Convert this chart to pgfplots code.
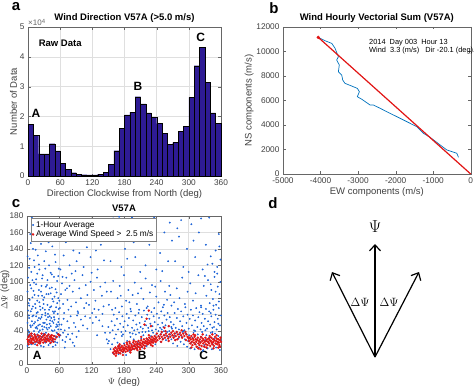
\documentclass[border=0pt]{standalone}
\usepackage{fontspec}
\setmainfont{Liberation Sans}
\usepackage{pgfplots}
\pgfplotsset{compat=1.18}
\usetikzlibrary{arrows.meta}
\definecolor{barcol}{RGB}{46,27,148}
\definecolor{mblue}{RGB}{0,114,189}
\definecolor{sblue}{RGB}{30,100,215}
\definecolor{mred}{RGB}{225,20,20}
\pgfplotsset{mystyle/.style={scale only axis, scaled ticks=false,
  tick label style={font=\fontsize{8.3}{9}\selectfont, color=black!75},
  label style={font=\fontsize{9.5}{10}\selectfont, color=black!75},
  title style={font=\bfseries\fontsize{9.5}{10}\selectfont, yshift=-5pt},
  axis line style={black!60}, tick style={black!60}, major tick length=2.5pt,
  /pgf/number format/assume math mode=true, /pgf/number format/1000 sep={},
  grid style={gray!25}}}
\begin{document}
\begin{tikzpicture}
\path[use as bounding box] (0,0) rectangle (474pt,389pt);
% panel letters
\node[font=\bfseries\fontsize{15}{15}\selectfont] at (16pt,382pt) {a};
\node[font=\bfseries\fontsize{15}{15}\selectfont] at (274pt,381pt) {b};
\node[font=\bfseries\fontsize{15}{15}\selectfont] at (16pt,185pt) {c};
\node[font=\bfseries\fontsize{15}{15}\selectfont] at (273pt,186pt) {d};
% ---------------- panel a
\begin{axis}[mystyle, at={(28pt,213pt)}, anchor=south west, width=193pt, height=149pt,
  xmin=0, xmax=360, ymin=0, ymax=5, xtick={0,60,...,360}, ytick={0,1,...,5},
  grid=major, title={Wind Direction V57A (>5.0 m/s)},
  xlabel={Direction Clockwise from North (deg)}, ylabel={Number of Data},
  xlabel style={yshift=3pt}, ylabel style={yshift=-4pt}, clip=false]
\addplot[ybar interval, fill=barcol, draw=black, line width=0.3pt] coordinates {
(0,1.745)(10,1.36)(20,0.74)(30,0.74)(40,1.085)(50,0.84)(60,0.43)(70,0.22)(80,0.11)(90,0.06)
(100,0.045)(110,0.04)(120,0.04)(130,0.065)(140,0.13)(150,0.40)(160,0.85)(170,1.6)(180,2.05)(190,2.14)
(200,2.66)(210,2.42)(220,2.12)(230,1.97)(240,1.76)(250,1.43)(260,1.07)(270,1.12)(280,1.51)(290,1.66)
(300,2.64)(310,3.70)(320,4.31)(330,3.14)(340,2.12)(350,1.77)(360,1.77)};
\node[anchor=south west, font=\fontsize{8}{8}\selectfont, color=black!60, inner sep=0pt] at (rel axis cs:0,1.005) {×10\textsuperscript{4}};
\node[font=\bfseries\fontsize{9.5}{10}\selectfont] at (axis cs:60,4.45) {Raw Data};
\node[font=\bfseries\fontsize{12}{12}\selectfont] at (axis cs:15,2.1) {A};
\node[font=\bfseries\fontsize{12}{12}\selectfont] at (axis cs:205,3.0) {B};
\node[font=\bfseries\fontsize{12}{12}\selectfont] at (axis cs:322,4.66) {C};
\end{axis}
% ---------------- panel b
\begin{axis}[mystyle, at={(283pt,215pt)}, anchor=south west, width=187.7pt, height=147pt,
  xmin=-5000, xmax=0, ymin=0, ymax=12000, xtick={-5000,-4000,...,0}, ytick={0,2000,...,12000},
  title={Wind Hourly Vectorial Sum (V57A)},
  xlabel={EW components (m/s)}, ylabel={NS components (m/s)},
  xlabel style={yshift=3pt}, ylabel style={yshift=-4pt}, clip=false]
\addplot[mblue, line width=0.7pt] coordinates {
(-4060,11150)(-3880,10880)(-3700,10660)(-3613,10260)(-3525,9570)(-3570,9300)(-3500,8900)
(-3525,8350)(-3435,8080)(-3410,7670)(-3350,7400)(-3170,7180)(-3020,6990)(-2965,6720)
(-3020,6310)(-2947,6180)(-2900,6100)(-2680,5630)(-2592,5630)(-2410,5360)(-2235,5085)
(-1968,4680)(-1700,4270)(-1435,3860)(-1258,3320)(-1080,2990)(-813,2370)(-635,1960)
(-370,1690)(-325,1360)};
\addplot[mred, line width=1.2pt] coordinates {(-4060,11150)(0,0)};
\addplot[mred, only marks, mark=*, mark size=1.5pt] coordinates {(-4060,11150)};
\node[anchor=north west, align=left, font=\fontsize{7.4}{8}\selectfont, inner sep=0pt] at (axis cs:-2710,11050)
  {2014\ \ Day 003\ \ Hour 13\\Wind\ \ 3.3 (m/s)\ \ \ Dir -20.1 (deg).};
\end{axis}
% ---------------- panel c
\begin{axis}[mystyle, at={(27pt,25pt)}, anchor=south west, width=194pt, height=148pt,
  xmin=0, xmax=360, ymin=0, ymax=180, xtick={0,60,...,360}, ytick={0,20,...,180},
  grid=major, title={V57A},
  xlabel={$\Psi$ (deg)}, ylabel={$\Delta\Psi$ (deg)},
  xlabel style={yshift=3pt}, ylabel style={yshift=-6.5pt},
  legend style={at={(0.02,0.985)}, anchor=north west, font=\fontsize{8.3}{8.3}\selectfont, draw=black!50, inner sep=1pt, row sep=-2pt},
  legend cell align=left]
\addplot[only marks, mark=*, mark size=0.7pt, sblue] coordinates {
(1,22)(3,35)(5,28)(7,45)(9,52)(11,31)(13,40)(15,24)(17,58)(19,36)(21,47)(23,27)(25,55)(27,33)(29,42)(31,21)(33,50)(35,38)(37,29)(39,57)(41,44)(43,25)(45,35)(47,52)(49,30)(51,41)(53,23)(55,48)(57,37)(59,55)
(2,41)(4,56)(6,33)(8,24)(10,47)(12,59)(14,36)(16,44)(18,27)(20,53)(22,39)(24,48)(26,22)(28,60)(30,35)(32,45)(34,26)(36,54)(38,42)(40,31)(42,58)(44,46)(46,28)(48,40)(50,57)(52,34)(54,45)(56,26)(58,42)(60,33)
(1,50)(4,38)(7,26)(10,58)(13,49)(16,32)(19,43)(22,56)(25,30)(28,46)(31,37)(34,59)(37,48)(40,23)(43,53)(46,41)(49,50)(52,27)(55,38)(58,51)
(3,59)(6,47)(9,37)(12,26)(15,51)(18,45)(21,33)(24,41)(27,57)(30,50)(33,32)(36,44)(39,35)(42,49)(45,56)(48,21)(51,54)(54,32)(57,46)(60,48)
(2,65)(5,78)(8,92)(11,70)(14,84)(17,97)(20,63)(23,75)(26,88)(29,68)(32,81)(35,94)(38,72)(41,66)(44,86)(47,79)(50,62)(53,91)(56,74)(59,67)
(1,88)(4,71)(7,64)(10,81)(13,99)(16,68)(19,77)(22,90)(25,66)(28,83)(31,73)(34,62)(37,96)(40,85)(43,69)(46,93)(49,76)(52,64)(55,87)(58,80)
(3,74)(6,96)(9,67)(12,89)(15,73)(18,62)(21,83)(24,70)(27,95)(30,78)(33,66)(36,85)(39,61)(42,92)(45,70)(48,64)(51,82)(54,69)(57,61)(60,77)
(2,105)(5,128)(8,112)(11,140)(14,118)(17,103)(20,132)(23,115)(26,146)(29,108)(32,125)(35,137)(38,102)(41,120)(44,111)(47,143)(50,106)(53,124)(56,101)(59,116)
(1,131)(4,117)(7,147)(10,102)(13,126)(16,139)(19,110)(22,121)(28,104)(34,116)(40,148)(46,109)(52,133)(58,107)
(6,158)(14,171)(25,162)(33,176)(44,155)(52,168)(9,178)(38,164)
(62,35)(64,48)(66,29)(68,55)(70,41)(73,33)(75,52)(78,44)(81,58)(84,37)(87,50)(90,45)(93,59)(96,40)(100,54)(104,47)(108,58)(112,43)(117,56)(122,50)(128,57)(134,53)(140,46)(145,38)(148,30)(63,42)(67,38)(71,27)(76,36)(80,30)(85,26)(92,33)
(61,68)(63,85)(65,98)(67,73)(69,62)(71,90)(73,105)(75,78)(77,66)(79,95)(82,70)(85,88)(88,102)(91,75)(94,64)(97,92)(100,80)(103,108)(106,68)(109,96)(112,84)(115,72)(118,100)(121,62)(124,90)(127,77)(130,105)(133,66)(136,94)(139,83)(142,70)(145,99)(148,88)(66,106)(74,92)(83,110)(95,62)(110,74)(125,67)(140,61)
(62,115)(68,132)(72,148)(79,120)(86,138)(92,125)(99,155)(105,118)(111,142)(118,130)(124,160)(131,115)(137,145)(143,126)(149,170)(65,162)(82,175)(97,135)(114,168)(128,138)(146,152)(90,113)(102,172)(120,111)
(70,20)(88,22)(130,35)(150,25)
(152,28)(155,18)(158,24)(160,13)(162,31)(164,20)(166,15)(168,26)(170,12)(172,22)(174,17)(176,34)(178,14)(180,25)(182,19)(184,11)(186,28)(188,21)(190,16)(192,33)(194,24)(196,18)(198,30)(200,22)(202,36)(204,19)(206,27)(208,38)(210,23)(212,31)(214,20)(216,35)(218,26)(220,39)(222,22)(224,30)(226,40)(228,25)(230,34)(232,28)(234,38)(236,31)(238,24)(240,36)(242,29)(244,40)(246,33)(248,27)(250,38)(252,31)(254,40)(256,35)(258,29)(260,39)(262,33)(264,40)(266,36)(268,30)
(151,45)(154,38)(157,52)(159,41)(161,60)(163,47)(165,36)(167,55)(169,42)(171,63)(173,49)(175,39)(177,58)(179,45)(181,52)(183,40)(185,61)(187,47)(189,56)(191,38)(193,64)(195,44)(197,53)(199,41)(201,59)(203,48)(205,42)(207,62)(209,50)(211,45)(213,57)(215,43)(217,65)(219,52)(221,47)(223,60)(225,44)(227,55)(229,49)(231,63)(233,46)(235,58)(237,51)(239,42)(241,61)(243,48)(245,56)(247,44)(249,64)(251,50)(253,45)(255,59)(257,47)(259,54)(261,62)(263,46)(265,57)(267,51)(269,43)(178,36)(196,37)(214,39)(232,41)(250,42)(268,45)
(152,72)(156,88)(160,101)(164,68)(168,80)(172,95)(176,70)(180,108)(184,77)(188,90)(192,67)(196,84)(200,99)(204,73)(208,66)(212,92)(216,79)(220,104)(224,70)(228,87)(232,96)(236,68)(240,82)(244,75)(248,101)(252,69)(256,88)(260,78)(264,95)(268,71)(158,66)(174,83)(190,75)(206,86)(222,68)(238,94)(254,72)(266,84)
(155,125)(162,150)(168,172)(175,118)(182,140)(188,165)(195,178)(201,130)(207,155)(214,175)(220,120)(227,145)(233,170)(240,115)(247,135)(255,160)(262,125)(269,150)(171,179)(186,128)(210,112)(236,178)(251,113)(265,172)(198,148)(160,177)(224,162)
(271,25)(273,34)(275,29)(277,38)(279,22)(281,31)(283,36)(285,27)(287,33)(289,39)(291,24)(293,30)(295,37)(297,21)(299,28)(301,35)(303,19)(305,26)(307,32)(309,38)(311,18)(313,24)(315,30)(317,36)(319,20)(321,27)(323,33)(325,39)(327,17)(329,23)(331,29)(333,35)(335,19)(337,26)(339,32)(341,38)(343,18)(345,24)(347,31)(349,37)(351,20)(353,27)(355,34)(357,22)(359,29)(312,40)(326,16)(344,39)(358,17)(290,40)
(272,48)(274,62)(276,44)(278,56)(280,67)(282,42)(284,52)(286,64)(288,46)(290,58)(292,41)(294,69)(296,50)(298,60)(300,43)(302,55)(304,66)(306,47)(308,59)(310,41)(312,53)(314,68)(316,45)(318,57)(320,63)(322,42)(324,50)(326,61)(328,46)(330,55)(332,67)(334,43)(336,52)(338,64)(340,48)(342,58)(344,44)(346,66)(348,51)(350,60)(352,42)(354,55)(356,68)(358,47)(360,59)(331,41)(347,45)(355,49)(341,62)(323,69)
(273,75)(278,92)(283,80)(288,105)(293,73)(298,88)(303,98)(308,77)(313,86)(318,108)(323,71)(328,95)(333,83)(336,102)(339,74)(342,90)(345,79)(348,106)(351,72)(354,94)(357,85)(359,100)(341,97)(350,88)(356,76)(330,107)(346,71)(353,110)
(275,125)(282,155)(290,118)(297,140)(305,170)(312,130)(319,160)(326,115)(332,145)(338,178)(344,122)(350,138)(356,158)(359,127)(348,112)(353,118)(341,131)(286,175)(309,150)(323,177)(335,121)(357,143)(300,112)(279,165)
};
\addlegendentry{1-Hour Average}
\addplot[only marks, mark=*, mark size=1.0pt, mred] coordinates {
(1,30)(2,27)(3,33)(4,29)(5,35)(6,26)(7,31)(8,28)(9,34)(10,30)(11,25)(12,32)(13,29)(14,36)(15,27)(16,31)(17,33)(18,28)(19,30)(20,35)(21,26)(22,32)(23,29)(24,34)(25,27)(26,31)(27,37)(28,29)(29,33)(30,26)(31,30)(32,35)(33,28)(34,32)(35,30)(36,27)(37,34)(38,31)(39,29)(40,36)(41,28)(42,33)(43,30)(44,26)(45,32)(46,35)(47,29)(48,31)(49,27)(50,34)(52,30)(55,33)(58,36)(60,35)(3,24)(9,26)(15,34)(24,25)(33,36)(44,34)(8,37)(19,23)
(160,14)(161,18)(162,12)(163,16)(164,20)(165,15)(166,13)(167,18)(168,16)(169,21)(170,14)(171,19)(172,17)(173,13)(174,20)(175,16)(176,22)(177,18)(178,15)(179,20)(180,17)(181,23)(182,19)(183,15)(184,21)(185,18)(186,24)(187,16)(188,20)(189,22)(190,18)(191,25)(192,20)(193,17)(194,23)(195,21)(196,19)(197,26)(198,22)(199,18)(200,24)(201,21)(202,27)(203,19)(204,23)(205,25)(206,21)(207,28)(208,24)(209,20)(210,26)(211,23)(212,29)(213,21)(214,25)(215,27)(216,23)(217,30)(218,26)(219,22)(220,28)(221,25)(222,31)(223,27)(224,24)(225,29)(226,26)(227,32)(228,28)(229,25)(230,30)(231,27)(232,33)(233,29)(234,26)(235,31)(236,28)(237,34)(238,30)(239,27)(240,32)(242,29)(244,34)(246,31)(248,36)(250,33)(252,30)(254,35)(256,32)(258,37)(260,34)(262,31)(264,36)(266,33)(268,38)(270,35)(272,32)(274,37)(276,34)(278,39)(280,36)(282,33)(284,38)(286,35)(288,32)(290,37)(292,34)(294,39)(296,36)(298,33)(300,31)
(165,10)(172,24)(178,11)(185,26)(192,14)(198,28)(205,17)(212,33)(218,19)(226,35)(233,22)(241,37)(249,27)(257,40)(263,28)(271,40)(279,30)(287,41)(295,29)(170,22)(190,27)(210,18)(230,23)(250,39)(275,29)
(222,55)(226,65)(218,48)(230,46)(255,44)(263,46)
(301,28)(302,32)(303,25)(304,30)(305,34)(306,27)(307,23)(308,31)(309,29)(310,26)(311,33)(312,24)(313,30)(314,27)(315,21)(316,29)(317,32)(318,25)(319,28)(320,23)(321,30)(322,26)(323,33)(324,22)(325,28)(326,31)(327,25)(328,29)(329,21)(330,27)(331,32)(332,24)(333,28)(334,30)(335,23)(336,27)(337,31)(338,25)(339,29)(340,22)(341,28)(342,32)(343,26)(344,24)(345,30)(346,27)(347,22)(348,29)(349,33)(350,25)(351,28)(352,31)(353,24)(354,27)(355,30)(356,26)(357,23)(358,29)(359,32)(360,27)
(305,20)(312,35)(318,19)(326,36)(333,20)(339,34)(346,19)(352,35)(358,21)(309,36)(322,18)(344,36)(355,20)
};
\addlegendentry{Average Wind Speed >\ \ 2.5 m/s}
\node[font=\bfseries\fontsize{12}{12}\selectfont] at (axis cs:19,11) {A};
\node[font=\bfseries\fontsize{12}{12}\selectfont] at (axis cs:214,10) {B};
\node[font=\bfseries\fontsize{12}{12}\selectfont] at (axis cs:328,10) {C};
\end{axis}
% ---------------- panel d
\begin{axis}[at={(240pt,0pt)}, anchor=south west, scale only axis, width=234pt, height=195pt,
  xmin=240, xmax=474, ymin=0, ymax=195, hide axis, clip=false]
\addplot[black, line width=1.2pt, -{Straight Barb[length=6pt,width=11pt,line width=1.2pt]}] coordinates {(375,32)(375,145)};
\addplot[black, line width=1.2pt, -{Straight Barb[length=6pt,width=11pt,line width=1.2pt]}] coordinates {(375,32)(332,117)};
\addplot[black, line width=1.2pt, -{Straight Barb[length=6pt,width=11pt,line width=1.2pt]}] coordinates {(375,32)(419,117)};
\node[font=\fontsize{16}{16}\selectfont] at (axis cs:375,162) {$\Psi$};
\node[font=\fontsize{12}{12}\selectfont] at (axis cs:360,87) {$\Delta\Psi$};
\node[font=\fontsize{12}{12}\selectfont] at (axis cs:389,87) {$\Delta\Psi$};
\end{axis}
\end{tikzpicture}
\end{document}
